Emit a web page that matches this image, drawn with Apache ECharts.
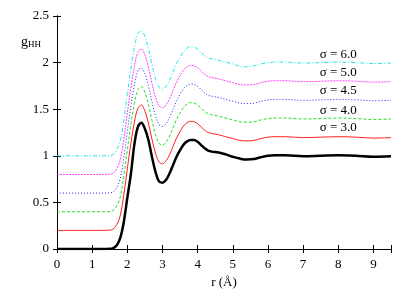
<!DOCTYPE html>
<html>
<head>
<meta charset="utf-8">
<script src="https://cdn.jsdelivr.net/npm/echarts@6/dist/echarts.min.js"></script>
<style>html,body{margin:0;padding:0;background:#fff;}#c{width:415px;height:291px;}</style>
</head>
<body>
<div id="c"></div>
<script>
const r = [0,0.5,1.0,1.3,1.5,1.6,1.7,1.8,1.9,2.0,
  2.1,2.2,2.3,2.4,2.5,2.6,2.7,2.8,2.9,3.0,
  3.1,3.2,3.3,3.4,3.5,3.6,3.7,3.8,3.9,4.0,
  4.1,4.2,4.3,4.4,4.6,4.8,5.0,5.2,5.4,5.6,
  5.8,6.0,6.2,6.5,7.0,7.5,8.0,8.5,9.0,9.5];
const gBlack = [0,0,0,0,0.002,0.01,0.04,0.12,0.29,0.55,
  0.8,1.12,1.31,1.355,1.29,1.17,0.99,0.83,0.725,0.712,
  0.74,0.81,0.9,0.99,1.06,1.12,1.155,1.17,1.17,1.15,
  1.115,1.08,1.055,1.045,1.035,1.015,0.99,0.97,0.96,0.965,
  0.985,1.0,1.005,1.005,0.995,1.0,1.005,1.0,0.99,0.995];
const gS30 = [0.2,0.2,0.2,0.2,0.202,0.215,0.26,0.36,0.58,0.86,
  1.13,1.36,1.51,1.545,1.48,1.35,1.18,1.03,0.935,0.915,
  0.945,1.01,1.1,1.19,1.26,1.32,1.355,1.37,1.365,1.345,
  1.31,1.275,1.25,1.24,1.225,1.205,1.185,1.165,1.16,1.165,
  1.185,1.2,1.205,1.205,1.195,1.2,1.205,1.2,1.19,1.195];
const gS40 = [0.4,0.4,0.4,0.4,0.402,0.415,0.46,0.56,0.78,1.06,
  1.33,1.56,1.71,1.745,1.68,1.55,1.38,1.23,1.135,1.115,
  1.145,1.21,1.3,1.39,1.46,1.52,1.555,1.57,1.565,1.545,
  1.51,1.475,1.45,1.44,1.425,1.405,1.385,1.365,1.36,1.365,
  1.385,1.4,1.405,1.405,1.395,1.4,1.405,1.4,1.39,1.395];
const gS45 = [0.6,0.6,0.6,0.6,0.602,0.615,0.66,0.76,0.98,1.26,
  1.53,1.76,1.91,1.945,1.88,1.75,1.58,1.43,1.335,1.315,
  1.345,1.41,1.5,1.59,1.66,1.72,1.755,1.77,1.765,1.745,
  1.71,1.675,1.65,1.64,1.625,1.605,1.585,1.565,1.56,1.565,
  1.585,1.6,1.605,1.605,1.595,1.6,1.605,1.6,1.59,1.595];
const gS50 = [0.8,0.8,0.8,0.8,0.802,0.815,0.86,0.96,1.18,1.46,
  1.73,1.96,2.11,2.145,2.08,1.95,1.78,1.63,1.535,1.515,
  1.545,1.61,1.7,1.79,1.86,1.92,1.955,1.97,1.965,1.945,
  1.91,1.875,1.85,1.84,1.825,1.805,1.785,1.765,1.76,1.765,
  1.785,1.8,1.805,1.805,1.795,1.8,1.805,1.8,1.79,1.795];
const gS60 = [1.0,1.0,1.0,1.0,1.002,1.015,1.06,1.16,1.38,1.66,
  1.93,2.16,2.31,2.345,2.28,2.15,1.98,1.83,1.735,1.715,
  1.745,1.81,1.9,1.99,2.06,2.12,2.155,2.17,2.165,2.145,
  2.11,2.075,2.05,2.04,2.025,2.005,1.985,1.96,1.955,1.965,
  1.985,2.0,2.005,2.005,1.995,2.0,2.005,2.0,1.99,1.995];
const sigmaLabels = ['σ = 3.0','σ = 4.0','σ = 4.5','σ = 5.0','σ = 6.0'];
const labelPosR = 8.0;
const labelPosG = [1.30,1.49,1.70,1.89,2.09];
const xTicks = [0,1,2,3,4,5,6,7,8,9];
const yTicks = [0,0.5,1,1.5,2,2.5];

const FONT = '"Liberation Serif", "DejaVu Serif", serif';
const pair = g => r.map((x,i)=>[x,g[i]]);
const colored = [
  {g:gS30, color:'#ff2020', type:'solid'},
  {g:gS40, color:'#20e020', type:[3,2]},
  {g:gS45, color:'#2020ff', type:[1,2]},
  {g:gS50, color:'#ff40ff', type:[2,1]},
  {g:gS60, color:'#20e8e8', type:[4,2,1,2]}
];
const series = colored.map((c,k)=>({
  type:'line', data:pair(c.g), smooth:0.35, showSymbol:false, symbol:'none',
  lineStyle:{color:c.color, width:1, type:c.type}, z:2,
  markPoint:{symbol:'rect', symbolSize:0, silent:true,
    label:{show:true, position:'inside', formatter:sigmaLabels[k], color:'#000', fontFamily:FONT, fontSize:13},
    data:[{coord:[labelPosR, labelPosG[k]]}]}
}));
series.push({type:'line', data:pair(gBlack), smooth:0.35, showSymbol:false, symbol:'none',
  lineStyle:{color:'#000', width:2.5}, z:3});

const axisCommon = {
  axisLine:{lineStyle:{color:'#000', width:1}},
  axisTick:{inside:true, length:4, lineStyle:{color:'#000'}},
  splitLine:{show:false}
};
const chart = echarts.init(document.getElementById('c'), null, {renderer:'canvas'});
chart.setOption({
  animation:false,
  backgroundColor:'#fff',
  grid:{left:57, right:24, top:16, bottom:42, containLabel:false, outerBoundsMode:'none'},
  xAxis:[
    Object.assign({type:'value', min:0, max:9.5, interval:1, position:'bottom',
      name:'r (Å)', nameLocation:'middle', nameGap:26,
      nameTextStyle:{fontFamily:FONT, fontSize:13, color:'#000'},
      axisLabel:{fontFamily:FONT, fontSize:13, color:'#000', margin:9,
        formatter:v=> xTicks.includes(v) ? String(v) : ''}}, axisCommon),
    Object.assign({type:'value', min:0, max:9.5, interval:1, position:'top',
      axisLabel:{show:false}}, axisCommon)
  ],
  yAxis:[
    Object.assign({type:'value', min:0, max:2.5, interval:0.5, position:'left',
      axisLabel:{fontFamily:FONT, fontSize:13, color:'#000', margin:8,
        formatter:v=> yTicks.includes(v) ? String(v) : ''}}, axisCommon),
    Object.assign({type:'value', min:0, max:2.5, interval:0.5, position:'right',
      axisLabel:{show:false}}, axisCommon)
  ],
  graphic:[{type:'text', left:21, top:35,
    style:{text:'{g|g}{s|HH}', rich:{
      g:{fontFamily:FONT, fontSize:14, fill:'#000'},
      s:{fontFamily:FONT, fontSize:9, fill:'#000', padding:[6,0,0,0]}}}}],
  series:series
});
</script>
</body>
</html>
